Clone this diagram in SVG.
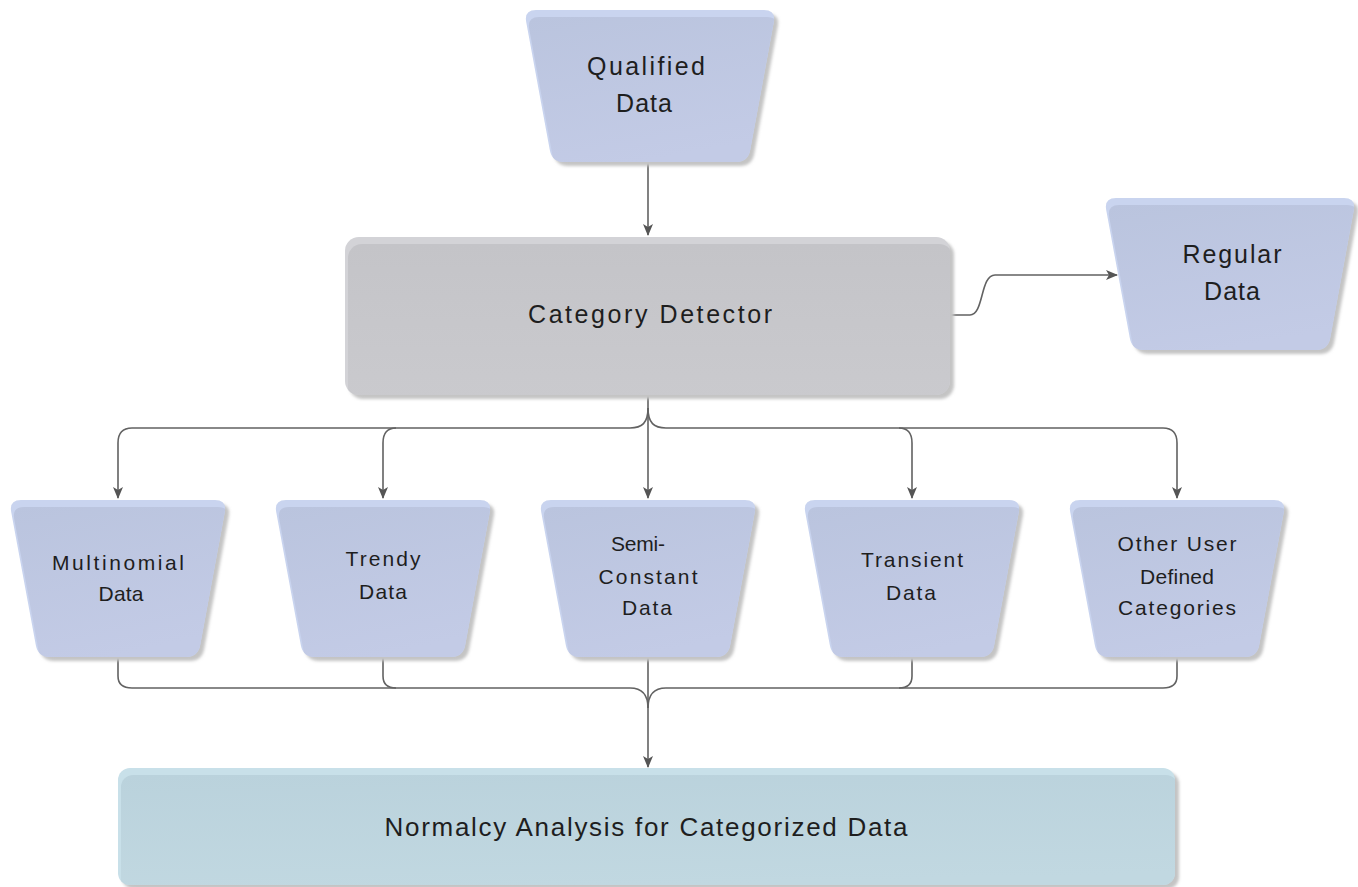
<svg xmlns="http://www.w3.org/2000/svg" xmlns:xlink="http://www.w3.org/1999/xlink" width="1358" height="887" viewBox="0 0 1358 887">
<style>
.lbl{font-family:"Liberation Sans","DejaVu Sans",Arial,sans-serif;fill:#1e1e1e;text-anchor:middle}
.big{font-size:25px}
.row{font-size:21px}
.bot{font-size:26px}
.con{fill:none;stroke:#626262;stroke-width:1.6}
.shadow{fill:#c4c4c4;filter:url(#blur)}
.rimB{fill:#c9d4ef}
.bodyB{fill:url(#gB)}
</style>
<defs>
<filter id="blur" x="-10%" y="-10%" width="120%" height="120%"><feGaussianBlur stdDeviation="1.5"/></filter>
<linearGradient id="gB" x1="0" y1="0" x2="0.3" y2="1"><stop offset="0" stop-color="#bac4de"/><stop offset="1" stop-color="#c3cbe6"/></linearGradient>
<linearGradient id="gG" x1="0" y1="0" x2="0" y2="1"><stop offset="0" stop-color="#c4c4c8"/><stop offset="1" stop-color="#cacace"/></linearGradient>
<linearGradient id="gT" x1="0" y1="0" x2="0.2" y2="1"><stop offset="0" stop-color="#bad2dc"/><stop offset="1" stop-color="#c1d8e1"/></linearGradient>
<path id="trapBig" d="M -114,0 H 114 Q 126,0 123.8,12 L 100.2,140 Q 98,152 86,152 H -86 Q -98,152 -100.2,140 L -123.8,12 Q -126,0 -114,0 Z"/>
<path id="trapRow" d="M -97,0 H 97 Q 109,0 106.8,12 L 82.2,145 Q 80,157 68,157 H -68 Q -80,157 -82.2,145 L -106.8,12 Q -109,0 -97,0 Z"/>
<clipPath id="cBig"><use xlink:href="#trapBig"/></clipPath>
<clipPath id="cRow"><use xlink:href="#trapRow"/></clipPath>
<rect id="rCat" x="0" y="0" width="605" height="158" rx="14"/>
<clipPath id="cCat"><use xlink:href="#rCat"/></clipPath>
<rect id="rNorm" x="0" y="0" width="1057" height="117" rx="12"/>
<clipPath id="cNorm"><use xlink:href="#rNorm"/></clipPath>
<marker id="arr" viewBox="0 0 12 12" refX="11" refY="6" markerWidth="12" markerHeight="12" markerUnits="userSpaceOnUse" orient="auto"><path d="M0,1 L12,6 L0,11 L3,6 Z" fill="#555"/></marker>
</defs>

<g id="connectors">
<path class="con" d="M648,162 V235" marker-end="url(#arr)"/>
<path class="con" d="M950,315 H970 C984,315 980,275 995,275 H1117" marker-end="url(#arr)"/>
<path class="con" d="M648,395 V498" marker-end="url(#arr)"/>
<path class="con" d="M648,408 C648,423 642,428 630,428 H132 C122,428 118,433 118,443 V498" marker-end="url(#arr)"/>
<path class="con" d="M396,428 C387,428 383,433 383,443 V498" marker-end="url(#arr)"/>
<path class="con" d="M648,408 C648,423 654,428 666,428 H1163 C1173,428 1177,433 1177,443 V498" marker-end="url(#arr)"/>
<path class="con" d="M899,428 C908,428 912,433 912,443 V498" marker-end="url(#arr)"/>
<path class="con" d="M648,657 V767" marker-end="url(#arr)"/>
<path class="con" d="M118,657 V676 C118,684 122,688 132,688 H630 C642,688 648,694 648,708"/>
<path class="con" d="M383,657 V676 C383,684 387,688 396,688"/>
<path class="con" d="M1177,657 V676 C1177,684 1173,688 1163,688 H666 C654,688 648,694 648,708"/>
<path class="con" d="M912,657 V676 C912,684 908,688 899,688"/>
</g>

<g id="qualified" transform="translate(650,10)">
<use xlink:href="#trapBig" class="shadow" transform="translate(4,4)"/>
<use xlink:href="#trapBig" class="rimB"/>
<g clip-path="url(#cBig)"><use xlink:href="#trapBig" class="bodyB" transform="translate(3,7)"/></g>
<text class="lbl big" x="-4" y="65" textLength="118" lengthAdjust="spacing">Qualified</text>
<text class="lbl big" x="-6" y="102" textLength="56" lengthAdjust="spacing">Data</text>
</g>

<g id="category" transform="translate(345,237)">
<use xlink:href="#rCat" class="shadow" transform="translate(4,4)"/>
<use xlink:href="#rCat" fill="#d3d3d7"/>
<g clip-path="url(#cCat)"><use xlink:href="#rCat" fill="url(#gG)" transform="translate(3,7)"/></g>
<text class="lbl big" x="305" y="86" textLength="244" lengthAdjust="spacing">Category Detector</text>
</g>

<g id="regular" transform="translate(1230,198)">
<use xlink:href="#trapBig" class="shadow" transform="translate(4,4)"/>
<use xlink:href="#trapBig" class="rimB"/>
<g clip-path="url(#cBig)"><use xlink:href="#trapBig" class="bodyB" transform="translate(3,7)"/></g>
<text class="lbl big" x="2" y="65" textLength="99" lengthAdjust="spacing">Regular</text>
<text class="lbl big" x="2" y="102" textLength="56" lengthAdjust="spacing">Data</text>
</g>

<g id="multinomial" transform="translate(118,500)">
<use xlink:href="#trapRow" class="shadow" transform="translate(4,4)"/>
<use xlink:href="#trapRow" class="rimB"/>
<g clip-path="url(#cRow)"><use xlink:href="#trapRow" class="bodyB" transform="translate(3,7)"/></g>
<text class="lbl row" x="0" y="70" textLength="132" lengthAdjust="spacing">Multinomial</text>
<text class="lbl row" x="3" y="101" textLength="45" lengthAdjust="spacing">Data</text>
</g>

<g id="trendy" transform="translate(383,500)">
<use xlink:href="#trapRow" class="shadow" transform="translate(4,4)"/>
<use xlink:href="#trapRow" class="rimB"/>
<g clip-path="url(#cRow)"><use xlink:href="#trapRow" class="bodyB" transform="translate(3,7)"/></g>
<text class="lbl row" x="0" y="66" textLength="75" lengthAdjust="spacing">Trendy</text>
<text class="lbl row" x="0" y="99" textLength="48" lengthAdjust="spacing">Data</text>
</g>

<g id="semiconstant" transform="translate(648,500)">
<use xlink:href="#trapRow" class="shadow" transform="translate(4,4)"/>
<use xlink:href="#trapRow" class="rimB"/>
<g clip-path="url(#cRow)"><use xlink:href="#trapRow" class="bodyB" transform="translate(3,7)"/></g>
<text class="lbl row" x="-10" y="51" textLength="54" lengthAdjust="spacing">Semi-</text>
<text class="lbl row" x="0" y="84" textLength="99" lengthAdjust="spacing">Constant</text>
<text class="lbl row" x="-1" y="115" textLength="50" lengthAdjust="spacing">Data</text>
</g>

<g id="transient" transform="translate(912,500)">
<use xlink:href="#trapRow" class="shadow" transform="translate(4,4)"/>
<use xlink:href="#trapRow" class="rimB"/>
<g clip-path="url(#cRow)"><use xlink:href="#trapRow" class="bodyB" transform="translate(3,7)"/></g>
<text class="lbl row" x="0" y="67" textLength="102" lengthAdjust="spacing">Transient</text>
<text class="lbl row" x="-1" y="100" textLength="50" lengthAdjust="spacing">Data</text>
</g>

<g id="otheruser" transform="translate(1177,500)">
<use xlink:href="#trapRow" class="shadow" transform="translate(4,4)"/>
<use xlink:href="#trapRow" class="rimB"/>
<g clip-path="url(#cRow)"><use xlink:href="#trapRow" class="bodyB" transform="translate(3,7)"/></g>
<text class="lbl row" x="0" y="51" textLength="119" lengthAdjust="spacing">Other User</text>
<text class="lbl row" x="0" y="84" textLength="74" lengthAdjust="spacing">Defined</text>
<text class="lbl row" x="0" y="115" textLength="118" lengthAdjust="spacing">Categories</text>
</g>

<g id="normalcy" transform="translate(118,768)">
<use xlink:href="#rNorm" class="shadow" transform="translate(4,4)"/>
<use xlink:href="#rNorm" fill="#c8e0e9"/>
<g clip-path="url(#cNorm)"><use xlink:href="#rNorm" fill="url(#gT)" transform="translate(3,7)"/></g>
<text class="lbl bot" x="528" y="68" textLength="523" lengthAdjust="spacing">Normalcy Analysis for Categorized Data</text>
</g>
</svg>
